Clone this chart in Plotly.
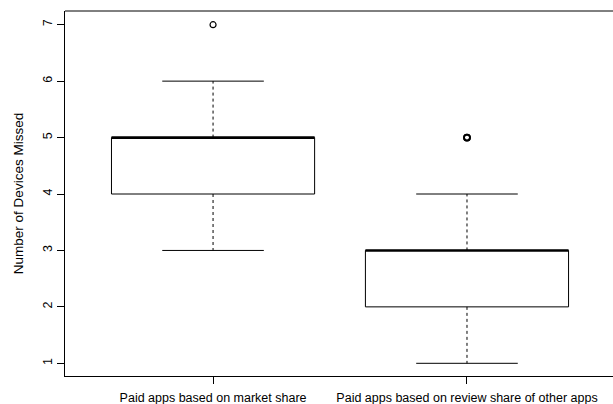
import plotly.graph_objects as go

categories = ["Paid apps based on market share", "Paid apps based on review share of other apps"]
q1 = [4, 2]
median = [5, 3]
q3 = [5, 3]
lower_whisker = [3, 1]
upper_whisker = [6, 4]
outliers = [[7], [5, 5]]
y_ticks = [1, 2, 3, 4, 5, 6, 7]

positions = [1, 2]
box_half = 0.4
cap_half = 0.2

fig = go.Figure()
for i, x in enumerate(positions):
    # box
    fig.add_trace(go.Scatter(
        x=[x - box_half, x + box_half, x + box_half, x - box_half, x - box_half],
        y=[q1[i], q1[i], q3[i], q3[i], q1[i]],
        mode="lines", line=dict(color="black", width=1), hoverinfo="skip", showlegend=False))
    # median
    fig.add_trace(go.Scatter(
        x=[x - box_half, x + box_half], y=[median[i], median[i]],
        mode="lines", line=dict(color="black", width=2.6), showlegend=False))
    # whiskers (dashed)
    fig.add_trace(go.Scatter(
        x=[x, x, None, x, x], y=[q3[i], upper_whisker[i], None, q1[i], lower_whisker[i]],
        mode="lines", line=dict(color="black", width=1, dash="3px,3px"), showlegend=False))
    # caps
    fig.add_trace(go.Scatter(
        x=[x - cap_half, x + cap_half, None, x - cap_half, x + cap_half],
        y=[upper_whisker[i], upper_whisker[i], None, lower_whisker[i], lower_whisker[i]],
        mode="lines", line=dict(color="black", width=1), showlegend=False))
    # outliers
    fig.add_trace(go.Scatter(
        x=[x] * len(outliers[i]), y=outliers[i], mode="markers",
        marker=dict(symbol="circle-open", size=6, color="black", line=dict(width=1.2 if len(outliers[i]) == 1 else 1.8)),
        showlegend=False))

font = "Liberation Sans, Arial, Helvetica, sans-serif"
fig.update_layout(
    width=613, height=404,
    margin=dict(l=65, r=0, t=11, b=28, autoexpand=False),
    paper_bgcolor="white", plot_bgcolor="white",
    font=dict(family=font, size=12.5, color="black"),
    xaxis=dict(range=[0.417, 2.575], tickvals=positions, ticktext=categories, automargin=False,
               showgrid=False, zeroline=False, showline=True, linecolor="black", linewidth=1,
               ticks="outside", ticklen=7, ticklabelstandoff=3, tickcolor="black", tickfont=dict(size=12.5)),
    yaxis=dict(range=[0.775, 7.243], tickvals=y_ticks, ticktext=[str(v) for v in y_ticks], automargin=False,
               showgrid=False, zeroline=False, showline=True, linecolor="black", linewidth=1,
               ticks="outside", ticklen=7, tickcolor="black", tickangle=-90,
               tickfont=dict(size=12.5),
               title=dict(text="Number of Devices Missed", font=dict(size=13.5), standoff=14)),
    shapes=[dict(type="line", xref="paper", yref="paper", x0=0, x1=1, y0=1, y1=1,
                 line=dict(color="black", width=1))],
)

fig.write_html("out.html", config={"displayModeBar": False},
               post_script="document.body.style.margin='0';document.body.style.overflow='hidden';")
